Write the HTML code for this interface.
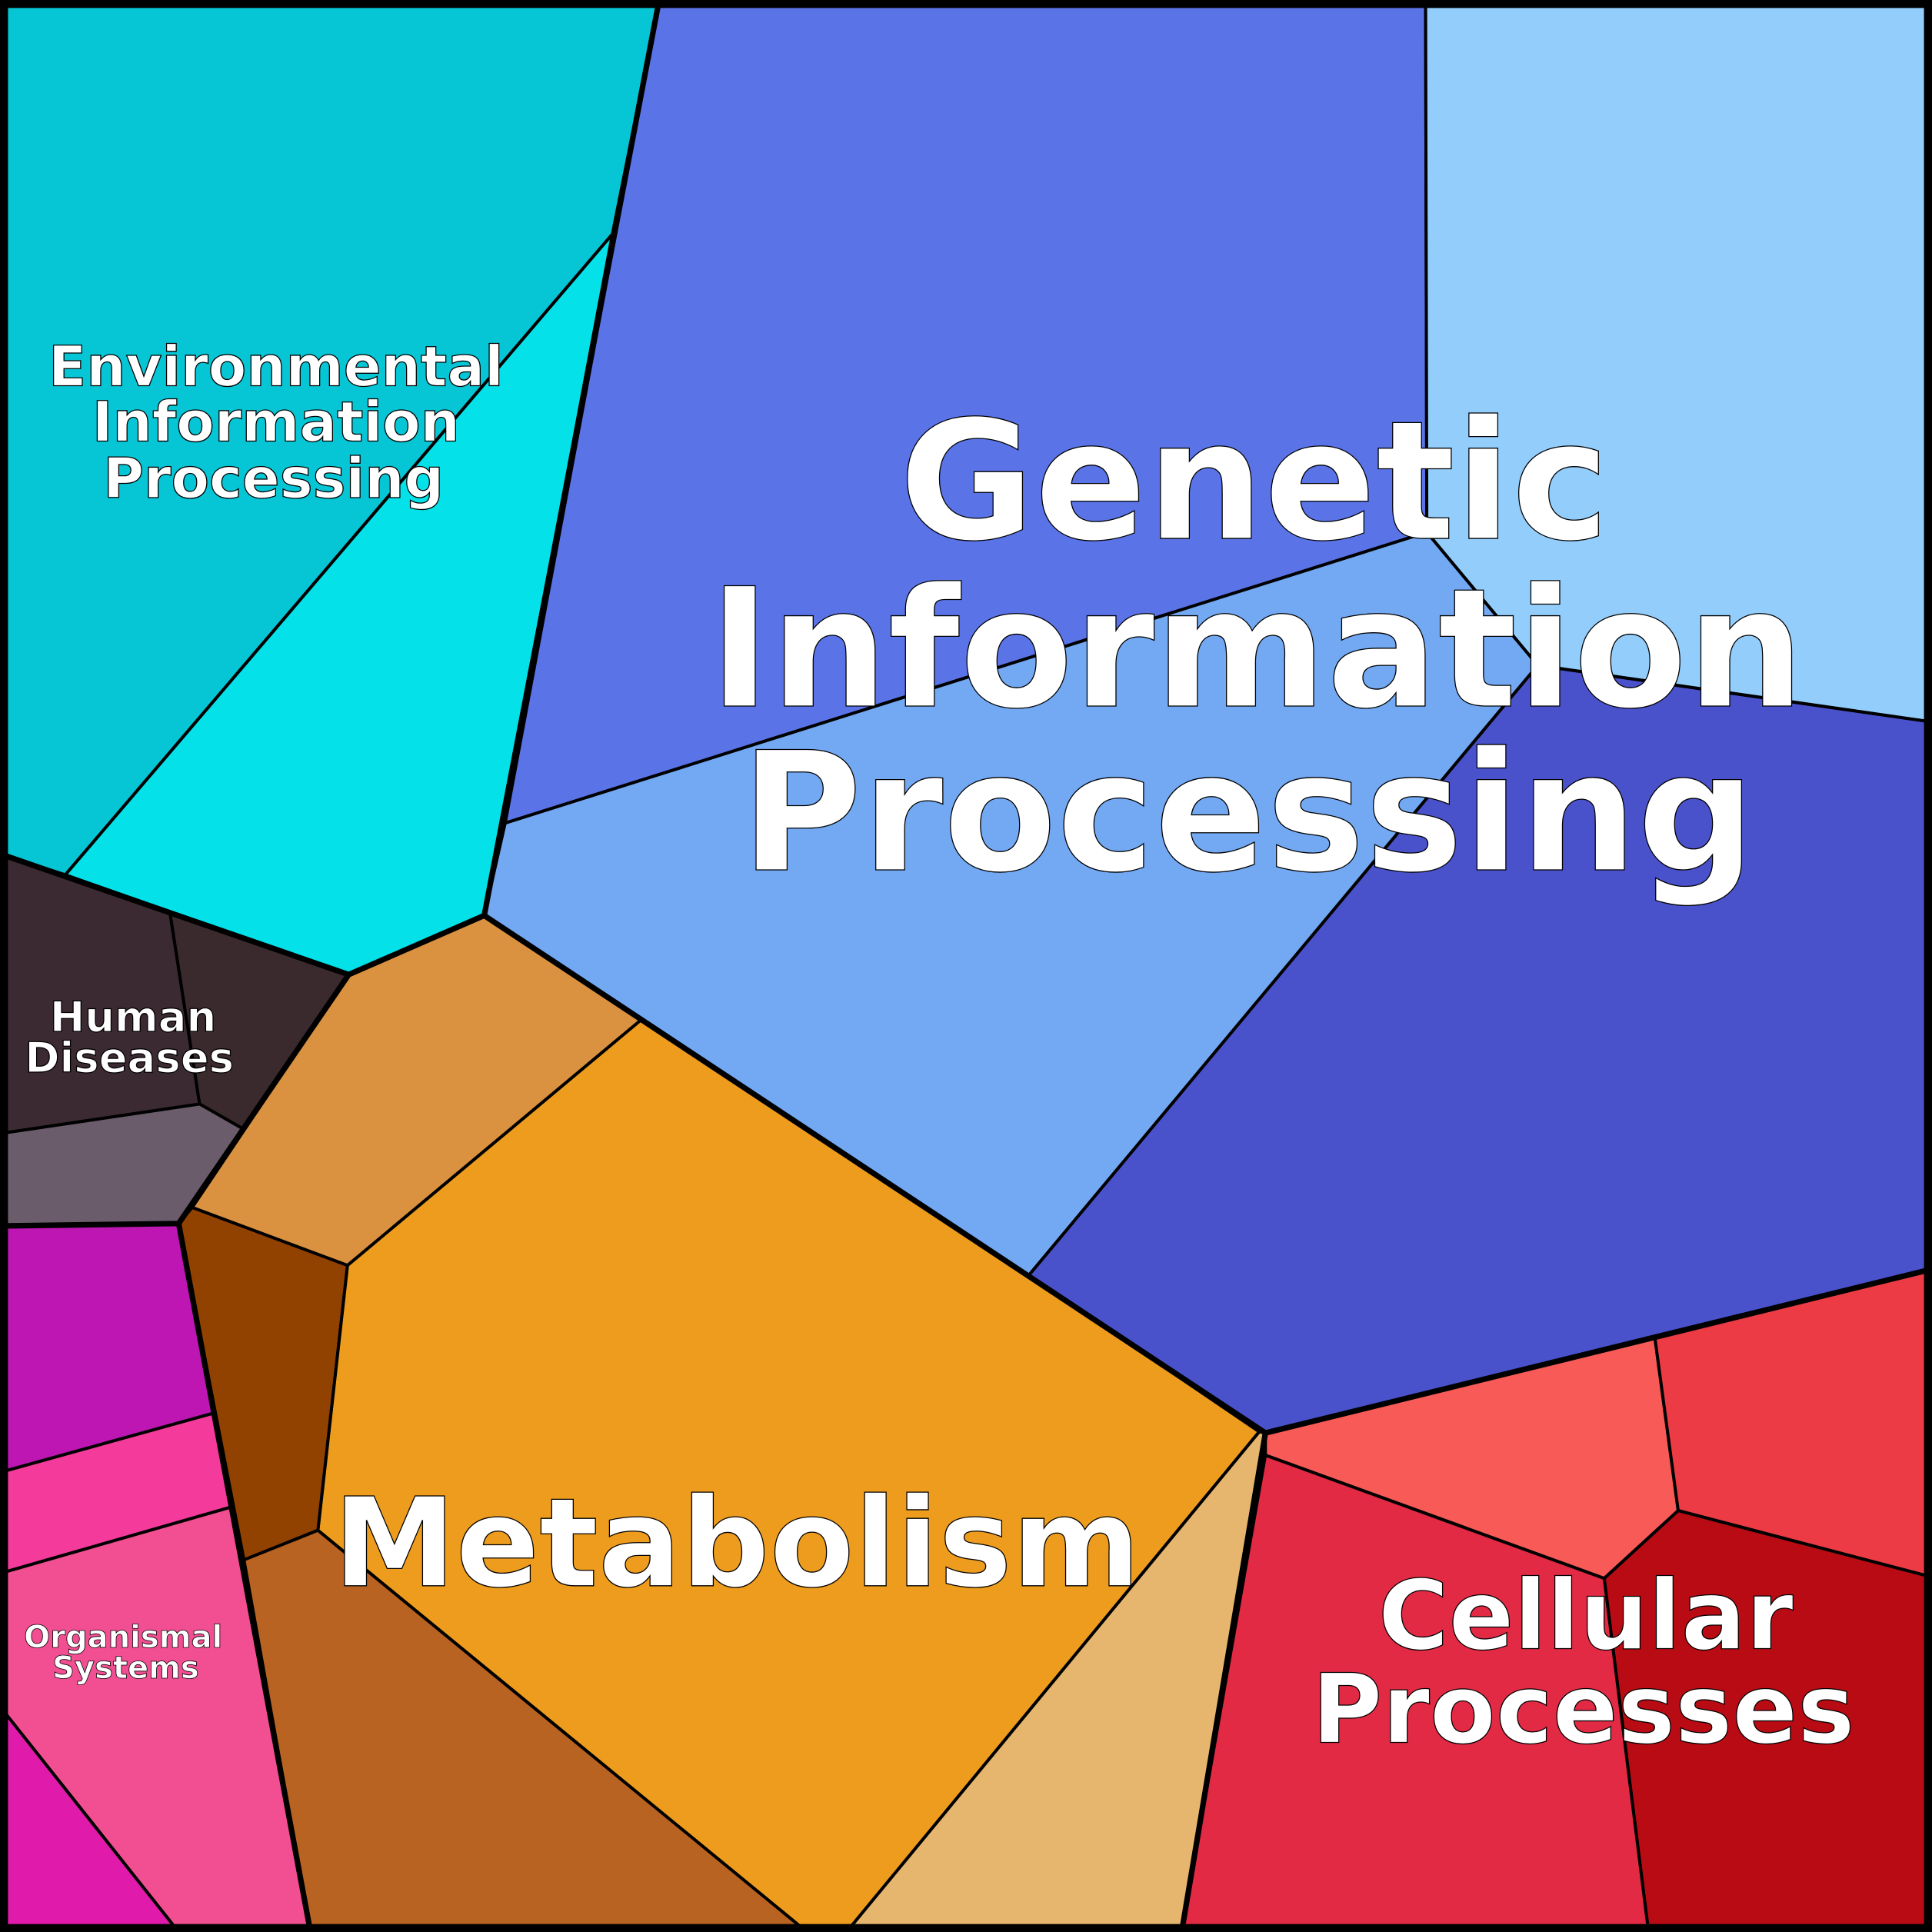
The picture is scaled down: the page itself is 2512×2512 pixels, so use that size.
<!DOCTYPE html>
<html><head><meta charset="utf-8"><style>html,body{margin:0;padding:0;background:#fff}svg{display:block}</style></head>
<body>
<svg width="2512" height="2512" viewBox="0 0 1568 1568" xmlns="http://www.w3.org/2000/svg">
<g stroke="#000" stroke-width="2.5" stroke-linejoin="round">
<polygon fill="#06c5d5" points="0,0 535,0 497,190 53,710 0,693"/>
<polygon fill="#04e1e9" points="497,190 393,743 283,791 53,710"/>
<polygon fill="#5a74e8" points="535,0 1157,0 1158,432 410,668"/>
<polygon fill="#93cdfc" points="1157,0 1568,0 1568,586 1248,540 1158,432"/>
<polygon fill="#73a9f3" points="410,668 1158,432 1248,540 835,1035 520,828 393,743"/>
<polygon fill="#4952cb" points="1248,540 1568,586 1568,1030 1027,1163 835,1035"/>
<polygon fill="#da9241" points="283,791 393,743 520,828 282,1027 156,980"/>
<polygon fill="#ed9c1e" points="520,828 835,1035 1022,1162 687,1568 655,1568 258,1242 282,1027"/>
<polygon fill="#914200" points="145,993 156,980 282,1027 258,1242 198,1266"/>
<polygon fill="#b96322" points="198,1266 258,1242 655,1568 252,1568"/>
<polygon fill="#e6b66e" points="1022,1162 1027,1163 959,1568 687,1568"/>
<polygon fill="#3c2a33" points="0,693 138,741 162,896 0,920"/>
<polygon fill="#3a2a2d" points="138,741 283,791 197,916 162,896"/>
<polygon fill="#6a5c6a" points="0,920 162,896 197,916 145,993 0,995"/>
<polygon fill="#be16b3" points="0,995 145,993 173,1147 0,1195"/>
<polygon fill="#f43b9b" points="0,1195 173,1147 188,1223 0,1277"/>
<polygon fill="#f24f93" points="0,1277 188,1223 252,1568 145,1568 0,1385"/>
<polygon fill="#e01aab" points="0,1385 145,1568 0,1568"/>
<polygon fill="#f75a57" points="1027,1163 1343,1085 1362,1226 1302,1281 1027,1181"/>
<polygon fill="#ec3b44" points="1343,1085 1568,1030 1568,1280 1362,1226"/>
<polygon fill="#e22a45" points="1027,1181 1302,1281 1338,1568 959,1568"/>
<polygon fill="#b90b14" points="1302,1281 1362,1226 1568,1280 1568,1568 1338,1568"/>
</g>
<g fill="none" stroke="#000" stroke-width="4.5" stroke-linejoin="round">
<polyline points="535,0 393,743 283,791 0,693"/>
<polyline points="283,791 145,993 0,995"/>
<polyline points="145,993 252,1568"/>
<polyline points="393,743 1027,1163 1568,1030"/>
<polyline points="1027,1163 959,1568"/>
<rect x="3" y="3" width="1562" height="1562" stroke-width="7"/>
</g>
<g font-family="DejaVu Sans, Liberation Sans, sans-serif" font-weight="bold" fill="#fff" stroke="#000" stroke-width="0.8" text-anchor="middle">
<text font-size="134" x="1018" y="437">Genetic</text>
<text font-size="134" x="1020" y="573">Information</text>
<text font-size="134" x="1013" y="706">Processing</text>
<text font-size="100" x="598" y="1287">Metabolism</text>
<text font-size="78" x="1287" y="1338">Cellular</text>
<text font-size="78" x="1285" y="1414">Processes</text>
<text font-size="45" x="224" y="313">Environmental</text>
<text font-size="45" x="224" y="358">Information</text>
<text font-size="45" x="222" y="404">Processing</text>
<text font-size="34" x="108" y="837">Human</text>
<text font-size="34" x="105" y="870">Diseases</text>
<text font-size="25" x="100" y="1337" stroke-width="0.5">Organismal</text>
<text font-size="25" x="102" y="1362" stroke-width="0.5">Systems</text>
</g>
</svg>
</body></html>
